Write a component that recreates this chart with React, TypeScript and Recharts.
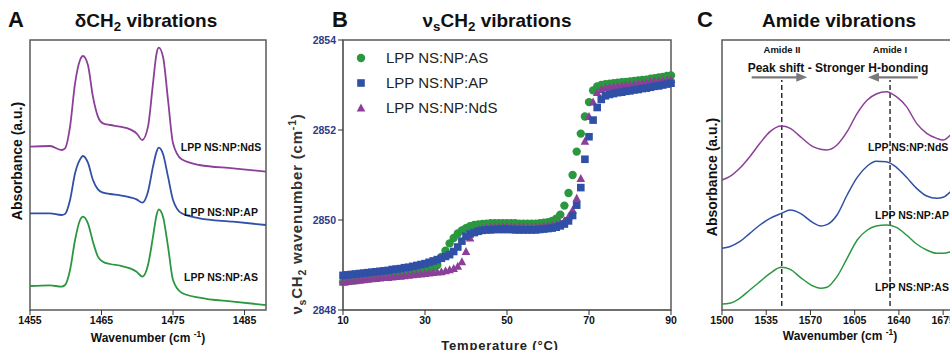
import React from 'react';
import { LineChart, Line, ScatterChart, Scatter, XAxis, YAxis, ReferenceArea, ReferenceLine, Legend } from 'recharts';

const FONT = '"Liberation Sans", Arial, Helvetica, sans-serif';
const PURPLE = '#8b3f98';
const BLUE = '#2f50a6';
const GREEN = '#2b973f';
const FRAME = '#5a5a5a';

// Panel A - CH2 scissoring region (arbitrary absorbance, stacked)
const aWave = [1455, 1457.8, 1459.4, 1459.9, 1460.6, 1461.3, 1462.0, 1462.4, 1463.1, 1463.8, 1464.5, 1465.2, 1466.2, 1467.6,
  1469.0, 1469.9, 1470.7, 1471.5, 1472.2, 1472.7, 1473.0, 1473.6, 1474.3, 1475.0, 1476.2, 1478.7, 1483.4, 1488];
const aNdS = [490, 492, 480, 485, 550, 680, 750, 762, 735, 640, 580, 560, 555, 550,
  542, 530, 510, 550, 680, 770, 787, 760, 630, 500, 452, 435, 425, 415];
const aAP = [290, 290, 285, 288, 330, 410, 452, 462, 442, 390, 362, 352, 348, 344,
  338, 332, 322, 355, 430, 475, 487, 468, 400, 330, 290, 275, 265, 255];
const aAS = [72, 74, 70, 75, 120, 210, 270, 280, 260, 205, 160, 145, 138, 133,
  125, 115, 100, 135, 220, 285, 302, 280, 190, 90, 52, 37, 25, 15];
const aTicks = [1455, 1465, 1475, 1485];

// Panel B - vsCH2 wavenumber vs temperature
const temps = [10, 11, 12, 13, 14, 15, 16, 17, 18, 19, 20, 21, 22, 23, 24, 25, 26, 27, 28, 29, 30, 31, 32, 33, 34, 35, 36, 37, 38, 39,
  40, 41, 42, 43, 44, 45, 46, 47, 48, 49, 50, 51, 52, 53, 54, 55, 56, 57, 58, 59, 60, 61, 62, 63, 64, 65, 66, 67, 68, 69,
  70, 71, 72, 73, 74, 75, 76, 77, 78, 79, 80, 81, 82, 83, 84, 85, 86, 87, 88, 89, 90];
const bAS = [2848.62, 2848.63, 2848.65, 2848.66, 2848.68, 2848.69, 2848.70, 2848.71, 2848.72, 2848.73,
  2848.74, 2848.75, 2848.76, 2848.77, 2848.78, 2848.80, 2848.81, 2848.83, 2848.85, 2848.87,
  2848.89, 2848.92, 2848.95, 2849.00, 2849.18, 2849.32, 2849.48, 2849.60, 2849.70, 2849.77,
  2849.82, 2849.86, 2849.89, 2849.90, 2849.91, 2849.92, 2849.93, 2849.93, 2849.93, 2849.93,
  2849.93, 2849.93, 2849.93, 2849.92, 2849.92, 2849.92, 2849.92, 2849.92, 2849.93, 2849.94,
  2849.95, 2849.98, 2850.03, 2850.12, 2850.32, 2850.60, 2851.00, 2851.52, 2851.92, 2852.30,
  2852.62, 2852.88, 2852.97, 2853.00, 2853.02, 2853.03, 2853.04, 2853.05, 2853.06, 2853.07,
  2853.08, 2853.09, 2853.10, 2853.11, 2853.12, 2853.14, 2853.15, 2853.17, 2853.18, 2853.20, 2853.21];
const bAP = [2848.77, 2848.78, 2848.79, 2848.80, 2848.81, 2848.82, 2848.83, 2848.84, 2848.85, 2848.86,
  2848.87, 2848.88, 2848.90, 2848.91, 2848.92, 2848.94, 2848.95, 2848.97, 2848.99, 2849.01,
  2849.03, 2849.06, 2849.09, 2849.12, 2849.15, 2849.19, 2849.23, 2849.30, 2849.40, 2849.53,
  2849.64, 2849.69, 2849.72, 2849.75, 2849.77, 2849.78, 2849.78, 2849.79, 2849.79, 2849.79,
  2849.79, 2849.79, 2849.78, 2849.78, 2849.78, 2849.78, 2849.78, 2849.78, 2849.79, 2849.80,
  2849.81, 2849.82, 2849.84, 2849.87, 2849.91, 2849.98, 2850.10, 2850.33, 2850.72, 2851.35,
  2851.85, 2852.22, 2852.50, 2852.68, 2852.76, 2852.79, 2852.81, 2852.83, 2852.84, 2852.86,
  2852.87, 2852.89, 2852.90, 2852.92, 2852.93, 2852.95, 2852.97, 2852.98, 2853.00, 2853.02, 2853.04];
const bNdS = [2848.62, 2848.63, 2848.64, 2848.65, 2848.66, 2848.67, 2848.68, 2848.69, 2848.70, 2848.71,
  2848.72, 2848.72, 2848.73, 2848.74, 2848.75, 2848.76, 2848.77, 2848.78, 2848.79, 2848.80,
  2848.81, 2848.82, 2848.83, 2848.84, 2848.85, 2848.87, 2848.89, 2848.92, 2848.97, 2849.07,
  2849.30, 2849.60, 2849.72, 2849.77, 2849.80, 2849.82, 2849.83, 2849.84, 2849.85, 2849.85,
  2849.85, 2849.85, 2849.85, 2849.85, 2849.84, 2849.84, 2849.84, 2849.84, 2849.85, 2849.86,
  2849.87, 2849.88, 2849.90, 2849.93, 2849.98, 2850.07, 2850.22, 2850.48, 2850.92, 2851.75,
  2852.30, 2852.62, 2852.83, 2852.90, 2852.93, 2852.95, 2852.96, 2852.97, 2852.98, 2852.99,
  2853.00, 2853.01, 2853.03, 2853.04, 2853.05, 2853.07, 2853.08, 2853.09, 2853.10, 2853.11, 2853.12];
const bXTicks = [10, 30, 50, 70, 90];
const bYTicks = [2848, 2850, 2852, 2854];

// Panel C - amide region
const cWave = [1500, 1506, 1514, 1522, 1530, 1538, 1547, 1554, 1562, 1572, 1578, 1583, 1591, 1599, 1607, 1615, 1622,
  1630, 1638, 1646, 1654, 1662, 1670, 1675, 1681, 1690];
const cNdS = [390, 400, 425, 460, 500, 535, 552, 545, 520, 490, 482, 480, 495, 535, 590, 630, 648,
  655, 640, 610, 560, 530, 515, 510, 525, 550];
const cAP = [185, 190, 205, 230, 255, 275, 290, 300, 290, 262, 252, 256, 285, 345, 398, 432, 446,
  445, 428, 398, 365, 342, 335, 338, 355, 380];
const cAS = [18, 20, 35, 60, 85, 110, 128, 122, 98, 72, 65, 68, 100, 155, 210, 240, 252,
  255, 248, 225, 198, 180, 170, 170, 175, 190];
const cTicks = [1500, 1535, 1570, 1605, 1640, 1675, 1710];
const amideII = 1547.3;
const amideI = 1633;

const aData = aWave.map((w, i) => ({ w, nds: aNdS[i], ap: aAP[i], as: aAS[i] }));
const cData = cWave.map((w, i) => ({ w, nds: cNdS[i], ap: cAP[i], as: cAS[i] }));
const bSeries = [
  { name: 'LPP NS:NP:AS', vals: bAS, color: GREEN, kind: 'circle' },
  { name: 'LPP NS:NP:AP', vals: bAP, color: BLUE, kind: 'square' },
  { name: 'LPP NS:NP:NdS', vals: bNdS, color: PURPLE, kind: 'triangle' },
];
const toPoints = (vals: number[]) => temps.map((t, i) => ({ t, v: vals[i] }));

const tickStyle = { fontSize: 10.5, fontWeight: 700, fill: '#111', fontFamily: FONT };

const Marker = ({ kind, cx, cy, color }: any) => {
  if (kind === 'circle') return <circle cx={cx} cy={cy} r={4.2} fill={color} />;
  if (kind === 'square') return <rect x={cx - 3.8} y={cy - 3.8} width={7.6} height={7.6} fill={color} />;
  return <polygon points={`${cx},${cy - 4.6} ${cx + 4.3},${cy + 3.4} ${cx - 4.3},${cy + 3.4}`} fill={color} />;
};

const Arrow = (p: any) => {
  const { x1, y1, x2, y2 } = p;
  const dir = x2 > x1 ? 1 : -1;
  return (
    <g>
      <line x1={x1} y1={y1} x2={x2 - dir * 8} y2={y2} stroke="#7a7a7a" strokeWidth={2.2} />
      <polygon points={`${x2},${y2} ${x2 - dir * 11},${y2 - 4.5} ${x2 - dir * 11},${y2 + 4.5}`} fill="#7a7a7a" />
    </g>
  );
};

const Txt = ({ x, y, size, children, rotate, color = '#111', weight = 700, spacing = 0, left = false }: any) => (
  <div
    style={{
      position: 'absolute', left: x, top: y, whiteSpace: 'nowrap', lineHeight: 1,
      fontSize: size, fontWeight: weight, color, letterSpacing: spacing, fontFamily: FONT,
      transform: `translate(${left ? '0' : '-50%'}, -50%)${rotate ? ` rotate(${rotate}deg)` : ''}`,
    }}
  >
    {children}
  </div>
);

const sub = { fontSize: '0.7em', verticalAlign: 'sub', lineHeight: 0 } as const;
const sup = { fontSize: '0.7em', verticalAlign: 'super', lineHeight: 0 } as const;

const renderLegend = () => (
  <div style={{ fontFamily: FONT, fontSize: 15, color: '#222' }}>
    {bSeries.map((s) => (
      <div key={s.name} style={{ display: 'flex', alignItems: 'center', height: 25 }}>
        <svg width={16} height={16}>
          <Marker kind={s.kind} cx={8} cy={8} color={s.color} />
        </svg>
        <span style={{ marginLeft: 17 }}>{s.name}</span>
      </div>
    ))}
  </div>
);

export default function App() {
  return (
    <div style={{ position: 'absolute', left: 0, top: 0, width: 950, height: 350, overflow: 'hidden', background: '#fff', fontFamily: FONT }}>
      {/* A */}
      <div style={{ position: 'absolute', left: 0, top: 0 }}>
        <LineChart width={300} height={350} data={aData} margin={{ top: 40, right: 34, bottom: 20, left: 30 }}>
          <ReferenceArea x1={1455} x2={1488} y1={0} y2={810} fill="none" stroke={FRAME} strokeWidth={1.5} />
          <XAxis dataKey="w" type="number" domain={[1455, 1488]} ticks={aTicks} height={20} axisLine={false}
            tickLine={{ stroke: '#333' }} tickSize={5} tick={tickStyle} />
          <YAxis hide domain={[0, 810]} />
          <Line dataKey="nds" type="monotone" stroke={PURPLE} strokeWidth={1.8} dot={false} isAnimationActive={false} />
          <Line dataKey="ap" type="monotone" stroke={BLUE} strokeWidth={1.8} dot={false} isAnimationActive={false} />
          <Line dataKey="as" type="monotone" stroke={GREEN} strokeWidth={1.8} dot={false} isAnimationActive={false} />
        </LineChart>
      </div>

      {/* B */}
      <div style={{ position: 'absolute', left: 300, top: 0 }}>
        <ScatterChart width={380} height={350} margin={{ top: 40, right: 9, bottom: 20, left: 0 }}>
          <ReferenceArea x1={10} x2={90} y1={2848} y2={2854} fill="none" stroke={FRAME} strokeWidth={1.5} />
          <XAxis dataKey="t" type="number" domain={[10, 90]} ticks={bXTicks} height={20}
            axisLine={{ stroke: FRAME }} tickLine={{ stroke: '#333' }} tickSize={5} tick={tickStyle} />
          <YAxis dataKey="v" type="number" domain={[2848, 2854]} ticks={bYTicks} width={43}
            axisLine={{ stroke: FRAME }} tickLine={{ stroke: '#333' }} tickSize={5}
            tick={{ ...tickStyle, fill: '#2d3a8a' }} />
          <Legend layout="vertical" align="center" verticalAlign="middle" content={renderLegend}
            wrapperStyle={{ left: 53, top: 45, width: 'auto' }} />
          <Scatter name={bSeries[0].name} data={toPoints(bAS)} isAnimationActive={false}
            shape={(p: any) => <Marker kind="circle" cx={p.cx} cy={p.cy} color={GREEN} />} />
          <Scatter name={bSeries[2].name} data={toPoints(bNdS)} isAnimationActive={false}
            shape={(p: any) => <Marker kind="triangle" cx={p.cx} cy={p.cy} color={PURPLE} />} />
          <Scatter name={bSeries[1].name} data={toPoints(bAP)} isAnimationActive={false}
            shape={(p: any) => <Marker kind="square" cx={p.cx} cy={p.cy} color={BLUE} />} />
        </ScatterChart>
      </div>

      {/* C */}
      <div style={{ position: 'absolute', left: 680, top: 0 }}>
        <LineChart width={330} height={350} data={cData} margin={{ top: 40, right: 10, bottom: 20, left: 42 }}>
          <ReferenceArea x1={1500} x2={1720} y1={0} y2={810} fill="none" stroke={FRAME} strokeWidth={1.5} />
          <XAxis dataKey="w" type="number" domain={[1500, 1720]} ticks={cTicks} height={20} axisLine={false}
            tickLine={{ stroke: '#333' }} tickSize={5} tick={tickStyle} />
          <YAxis hide domain={[0, 810]} />
          <ReferenceLine segment={[{ x: amideII, y: 12 }, { x: amideII, y: 690 }]} stroke="#222" strokeWidth={1.4} strokeDasharray="5 3" />
          <ReferenceLine segment={[{ x: amideI, y: 12 }, { x: amideI, y: 690 }]} stroke="#222" strokeWidth={1.4} strokeDasharray="5 3" />
          <ReferenceLine segment={[{ x: 1523.5, y: 698 }, { x: 1567.5, y: 698 }]} shape={Arrow} />
          <ReferenceLine segment={[{ x: 1655, y: 698 }, { x: 1615.5, y: 698 }]} shape={Arrow} />
          <Line dataKey="nds" type="monotone" stroke={PURPLE} strokeWidth={1.5} dot={false} isAnimationActive={false} />
          <Line dataKey="ap" type="monotone" stroke={BLUE} strokeWidth={1.5} dot={false} isAnimationActive={false} />
          <Line dataKey="as" type="monotone" stroke={GREEN} strokeWidth={1.5} dot={false} isAnimationActive={false} />
        </LineChart>
      </div>

      {/* panel letters and titles */}
      <Txt x={16} y={20} size={22}>A</Txt>
      <Txt x={146} y={20} size={19}>δCH<span style={sub}>2</span> vibrations</Txt>
      <Txt x={340} y={20} size={22}>B</Txt>
      <Txt x={497} y={20} size={19}>ν<span style={sub}>s</span>CH<span style={sub}>2</span> vibrations</Txt>
      <Txt x={705} y={20} size={22}>C</Txt>
      <Txt x={839} y={20} size={19}>Amide vibrations</Txt>

      {/* axis titles */}
      <Txt x={17} y={161} size={14} rotate={-90}>Absorbance (a.u.)</Txt>
      <Txt x={148} y={338} size={12}>Wavenumber (cm <span style={sup}>-1</span>)</Txt>
      <Txt x={296} y={214} size={15} rotate={-90} color="#333" spacing={0.8}>
        ν<span style={sub}>s</span>CH<span style={sub}>2</span> wavenumber (cm<span style={sup}>-1</span>)
      </Txt>
      <Txt x={500} y={345} size={13} spacing={0.8} color="#222">Temperature (°C)</Txt>
      <Txt x={712} y={177} size={14} rotate={-90}>Absorbance (a.u.)</Txt>
      <Txt x={840} y={336} size={12}>Wavenumber (cm <span style={sup}>-1</span>)</Txt>

      {/* sample labels */}
      <Txt x={221} y={147} size={10.5}>LPP NS:NP:NdS</Txt>
      <Txt x={221} y={212} size={10.5}>LPP NS:NP:AP</Txt>
      <Txt x={221} y={277} size={10.5}>LPP NS:NP:AS</Txt>
      <Txt x={868} y={147} size={10.5} left>LPP NS:NP:NdS</Txt>
      <Txt x={875} y={215} size={10.5} left>LPP NS:NP:AP</Txt>
      <Txt x={875} y={287} size={10.5} left>LPP NS:NP:AS</Txt>

      {/* amide annotations */}
      <Txt x={782} y={50} size={9.5}>Amide II</Txt>
      <Txt x={890} y={50} size={9.5}>Amide I</Txt>
      <Txt x={838} y={68} size={12}>Peak shift - Stronger H-bonding</Txt>
    </div>
  );
}
